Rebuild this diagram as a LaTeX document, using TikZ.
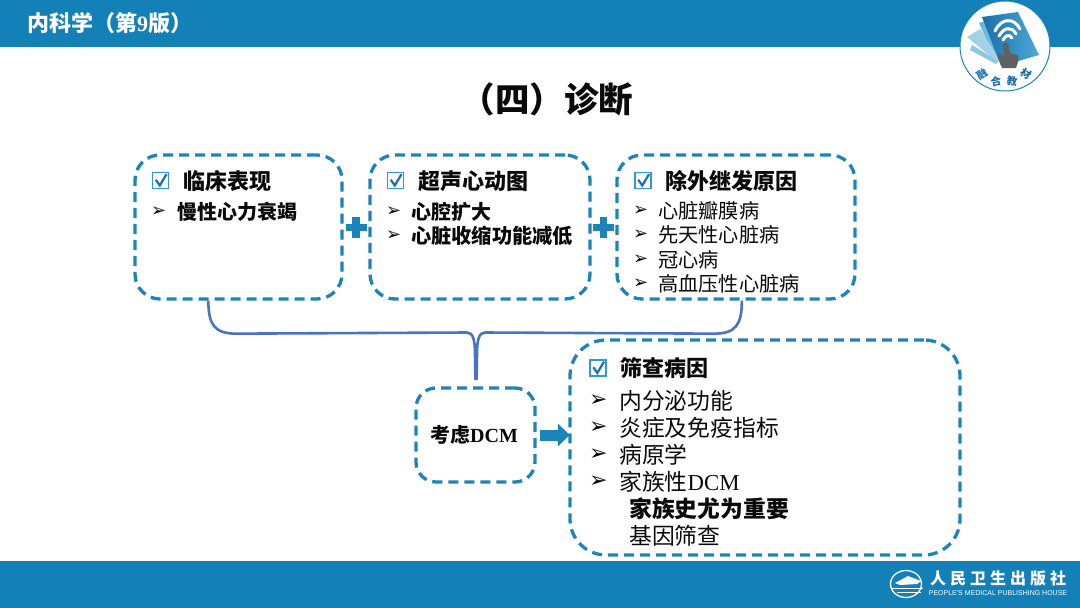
\documentclass[tikz,border=0pt]{standalone}
\usepackage{fontspec}
\setmainfont{Noto Sans CJK SC}
\newfontfamily\serifl{Liberation Serif}
\newfontfamily\djv{DejaVu Sans}
\newfontfamily\engl{Liberation Sans}
\usetikzlibrary{arrows.meta,calc}
\definecolor{barblue}{HTML}{1380B8}
\definecolor{dashblue}{HTML}{1B84BA}
\definecolor{chkblue}{HTML}{2E9AD0}
\definecolor{chkdark}{HTML}{1B6FB0}
\definecolor{bracebl}{HTML}{4A72C6}
\definecolor{logodk}{HTML}{1A6FA8}
\definecolor{txt}{HTML}{0A0A0A}
\newcommand{\fs}[1]{\fontsize{#1}{#1}\selectfont}
\newcommand{\chk}[1]{\draw[chkblue,line width=1.4] ($(#1)+(-8,-8)$) rectangle ($(#1)+(8,8)$);
  \draw[chkdark,line width=2.2] ($(#1)+(-4.7,-0.7)$) -- ($(#1)+(-0.7,5)$) -- ($(#1)+(6,-6.3)$);}
\tikzset{
  dbox/.style={draw=dashblue,line width=3.3,dash pattern=on 10 off 6,rounded corners=#1,inner sep=0},
  lbl/.style={anchor=west,inner sep=0,text=txt},
  bar/.style={lbl,font=\djv\fs{18}},
  barb/.style={lbl,font=\djv\fs{22}},
  plusm/.style={draw=dashblue,line width=7.5},
  brace/.style={draw=bracebl,line width=2.6},
  logot/.style={inner sep=0,text=logodk,font=\bfseries\fs{10.5}},
}
\begin{document}
\begin{tikzpicture}[x=1pt,y=-1pt]
\useasboundingbox (0,0) rectangle (1080,608);
\fill[white] (0,0) rectangle (1080,608);
\fill[barblue] (0,0) rectangle (1080,47);
\fill[barblue] (0,561) rectangle (1080,608);
\node[lbl,text=white,font=\bfseries\fs{22}] (hdr) at (27,23) {内科学（第{\serifl 9}版）};
\node[inner sep=0,text=txt,font=\bfseries\fs{34.5}] (ttl) at (547,99) {（四）诊断};

% boxes
\node[dbox=25,minimum width=207,minimum height=144] (b1) at (238.5,227) {};
\node[dbox=25,minimum width=220,minimum height=144] (b2) at (480,227) {};
\node[dbox=25,minimum width=238,minimum height=144] (b3) at (736,227) {};
\node[dbox=20,minimum width=119,minimum height=94] (b4) at (475.5,435) {};
\node[dbox=36,minimum width=390,minimum height=215] (b5) at (765,447.5) {};

% box 1
\chk{160.5,180.5}
\node[lbl,font=\bfseries\fs{22}] (t1) at (183,181) {临床表现};
\node[bar] (a1) at (151,212) {➢};
\node[lbl,font=\bfseries\fs{20}] (t1a) at (177,212) {慢性心力衰竭};
% box 2
\chk{395.5,180.5}
\node[lbl,font=\bfseries\fs{22}] (t2) at (418,181) {超声心动图};
\node[bar] (a2) at (386,212) {➢};
\node[lbl,font=\bfseries\fs{20}] (t2a) at (411,212) {心腔扩大};
\node[bar] (a3) at (386,236) {➢};
\node[lbl,font=\bfseries\fs{20.2}] (t2b) at (411,236) {心脏收缩功能减低};
% box 3
\chk{643,180.5}
\node[lbl,font=\bfseries\fs{22}] (t3) at (665,181) {除外继发原因};
\node[bar] (a4) at (633,211) {➢};
\node[lbl,font=\fs{20.2}] (t3a) at (658,211) {心脏瓣膜病};
\node[bar] (a5) at (633,235) {➢};
\node[lbl,font=\fs{20.2}] (t3b) at (658,235) {先天性心脏病};
\node[bar] (a6) at (633,260) {➢};
\node[lbl,font=\fs{20.2}] (t3c) at (658,260) {冠心病};
\node[bar] (a7) at (633,284) {➢};
\node[lbl,font=\fs{20.2}] (t3d) at (658,284) {高血压性心脏病};
% box 4
\node[inner sep=0,text=txt,font=\bfseries\fs{20}] (t4) at (474,435) {考虑{\serifl DCM}};
% box 5
\chk{598,368}
\node[lbl,font=\bfseries\fs{22}] (t5) at (620,368) {筛查病因};
\node[barb] (a8) at (589,401) {➢};
\node[lbl,font=\fs{22.8}] (t5a) at (619,401) {内分泌功能};
\node[barb] (a9) at (589,428) {➢};
\node[lbl,font=\fs{22.8}] (t5b) at (619,428) {炎症及免疫指标};
\node[barb] (a10) at (589,455) {➢};
\node[lbl,font=\fs{22.8}] (t5c) at (619,455) {病原学};
\node[barb] (a11) at (589,482) {➢};
\node[lbl,font=\fs{22.8}] (t5d) at (619,482) {家族性{\serifl DCM}};
\node[lbl,font=\bfseries\fs{22.8}] (t5e) at (629,509) {家族史尤为重要};
\node[lbl,font=\fs{22.8}] (t5f) at (629,536) {基因筛查};

% plus signs
\coordinate (p1) at ($(b1.east)!0.5!(b2.west)+(0,0.7)$);
\coordinate (p2) at ($(b2.east)!0.5!(b3.west)+(0,0.7)$);
\foreach \p in {p1,p2}{
  \draw[plusm] ($(\p)+(-10.5,0)$) -- ($(\p)+(10.5,0)$);
  \draw[plusm] ($(\p)+(0,-10.5)$) -- ($(\p)+(0,10.5)$);
}
% arrow
\draw[dashblue,line width=11,-{Triangle[length=12pt,width=22pt]},shorten <=3.5pt,shorten >=-1.5pt]
  (b4.east) -- (b4.east -| b5.west);

% brace connector
\coordinate (bl) at ($(b1.south west)+(75,0)$);
\coordinate (br) at ($(b3.south west)+(126.5,0)$);
\draw[brace] (bl) .. controls ($(bl)+(0,24)$) and ($(bl)+(6,33)$) .. ($(bl)+(28,33)$)
  -- (467,332.5) .. controls (473,332.5) and (475,340) .. (475,354) -- (475.4,380);
\draw[brace] (br) .. controls ($(br)+(0,24)$) and ($(br)+(-6,33)$) .. ($(br)+(-28,33)$)
  -- (485,332.5) .. controls (479,332.5) and (477,340) .. (477,354) -- (476.6,380);

% logo
\node[circle,draw=dashblue,line width=1,fill=white,minimum size=90,inner sep=0] (logo) at (1005,46) {};
\fill[chkblue!70] (979,23) -- (990,19) -- (1005,55) -- (995,60) -- cycle;
\fill[chkblue!45] (967,37) -- (980,29) -- (1000,60) -- (997,62) -- cycle;
\fill[chkblue!55] (970,50) -- (972,45) -- (998,61) -- (996,64) -- cycle;
\shade[left color=logodk,right color=chkblue!85] (982,17) -- (1018,12) -- (1039,55) -- (1001,66) -- cycle;
\draw[white,line width=3,line cap=round] (995,31) .. controls (1001,18) and (1014,17) .. (1020,29);
\draw[white,line width=3,line cap=round] (999,36) .. controls (1004,27) and (1012,26) .. (1016,34);
\draw[white,line width=3,line cap=round] (1003,40) .. controls (1005,35) and (1010,34) .. (1012,38);
\fill[gray!75!black] (1003,43) -- (1008,43) -- (1010,53) -- (1018,55) -- (1018,62) -- (1016,68) -- (1002,68) -- (1000,62) -- (998,57) -- (999,53) -- (1004,57) -- cycle;
\node[logot,rotate=33] (l1) at (982,74) {融};
\node[logot,rotate=12] (l2) at (996,81.5) {合};
\node[logot,rotate=-8] (l3) at (1012,81.5) {教};
\node[logot,rotate=-32] (l4) at (1026,74) {材};

% publisher mark
\draw[white,line width=1.3] (906,584) ellipse (15.5 and 13.5);
\fill[white] (895,583) -- (908,576) -- (921,581) -- (917,584) -- (900,585) -- cycle;
\draw[white,line width=1] (892,588) -- (923,588);
\draw[white,line width=1] (897,592) -- (921,592);
\node[inner sep=0,text=white,font=\bfseries\fs{16}] (pub) at (998,578) {人\hspace{4pt}民\hspace{4pt}卫\hspace{4pt}生\hspace{4pt}出\hspace{4pt}版\hspace{4pt}社};
\node[inner sep=0,text=white,font=\engl\fs{7}] (pube) at (998,593) {PEOPLE'S MEDICAL PUBLISHING HOUSE};
\end{tikzpicture}
\end{document}
